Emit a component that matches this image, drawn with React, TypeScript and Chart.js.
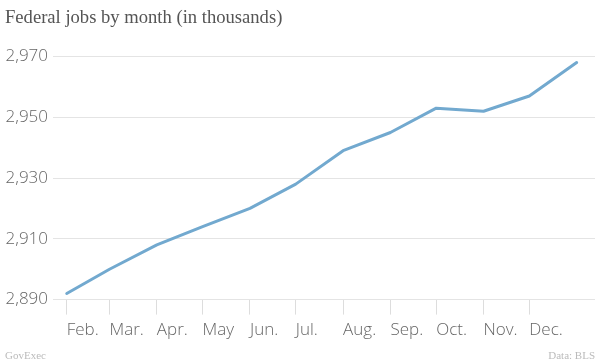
import React, { useEffect, useRef } from 'react';
import { Chart, registerables } from 'chart.js';

Chart.register(...registerables);

// Days since the first observation (Feb. 1) for each monthly point
const dayOffsets = [0, 28, 59, 89, 120, 150, 181, 212, 242, 273, 303, 334];
// Federal jobs, in thousands
const jobs = [2892, 2900, 2908, 2914, 2920, 2928, 2939, 2945, 2953, 2952, 2957, 2968];
const tickLabels = ['Feb.', 'Mar.', 'Apr.', 'May', 'Jun.', 'Jul.', 'Aug.', 'Sep.', 'Oct.', 'Nov.', 'Dec.'];
const yTicks = [2890, 2910, 2930, 2950, 2970];

const TITLE = 'Federal jobs by month (in thousands)';
const SOURCE_LEFT = 'GovExec';
const SOURCE_RIGHT = 'Data: BLS';

export default function App() {
  const canvasRef = useRef<HTMLCanvasElement | null>(null);

  useEffect(() => {
    if (!canvasRef.current) return;
    const tickFont = { family: "'Open Sans', sans-serif", size: 17, weight: 300 as any };
    const chart = new Chart(canvasRef.current, {
      type: 'line',
      data: {
        datasets: [
          {
            data: dayOffsets.map((d, i) => ({ x: d, y: jobs[i] })),
            borderColor: '#72a9cf',
            borderWidth: 3,
            pointRadius: 0,
            pointHoverRadius: 0,
            tension: 0,
            fill: false,
            borderJoinStyle: 'round',
            borderCapStyle: 'round',
          },
        ],
      },
      options: {
        animation: false,
        responsive: false,
        maintainAspectRatio: false,
        layout: { padding: { left: 5, right: 5, top: 0, bottom: 18 } },
        plugins: {
          legend: { display: false },
          tooltip: { enabled: false },
          title: {
            display: true,
            text: TITLE,
            align: 'start',
            color: '#555',
            font: { family: "'Liberation Serif', serif", size: 18.6, weight: 'normal' },
            padding: { top: 7, bottom: 12 },
          },
        },
        scales: {
          x: {
            type: 'linear',
            min: -9,
            max: 346,
            afterBuildTicks: (scale: any) => {
              scale.ticks = dayOffsets.slice(0, tickLabels.length).map((v) => ({ value: v }));
            },
            ticks: {
              autoSkip: false,
              maxRotation: 0,
              minRotation: 0,
              align: 'start',
              padding: 5,
              color: '#666',
              font: tickFont,
              callback: (_v: any, i: number) => tickLabels[i] ?? '',
            },
            grid: {
              drawOnChartArea: false,
              drawTicks: true,
              tickLength: 15,
              color: '#dddddd',
              lineWidth: 1,
            },
            border: { display: false },
          },
          y: {
            type: 'linear',
            min: 2890,
            max: 2975,
            afterBuildTicks: (scale: any) => {
              scale.ticks = yTicks.map((v) => ({ value: v }));
            },
            afterFit: (scale: any) => {
              scale.width = 48;
            },
            ticks: {
              padding: 5,
              color: '#666',
              font: tickFont,
              callback: (v: any) => Number(v).toLocaleString('en-US'),
            },
            grid: {
              drawTicks: false,
              color: '#e4e4e4',
              lineWidth: 1,
            },
            border: { display: false },
          },
        },
      },
    });
    return () => chart.destroy();
  }, []);

  const footStyle: React.CSSProperties = {
    position: 'absolute',
    top: 348,
    fontFamily: "'Liberation Serif', serif",
    fontSize: 11,
    color: '#bbbbbb',
    lineHeight: '14px',
  };

  return (
    <div style={{ position: 'absolute', left: 0, top: 0, width: 600, height: 363, background: '#fff' }}>
      <canvas ref={canvasRef} width={600} height={363} style={{ display: 'block' }} />
      <span style={{ ...footStyle, left: 5 }}>{SOURCE_LEFT}</span>
      <span style={{ ...footStyle, right: 5 }}>{SOURCE_RIGHT}</span>
    </div>
  );
}
